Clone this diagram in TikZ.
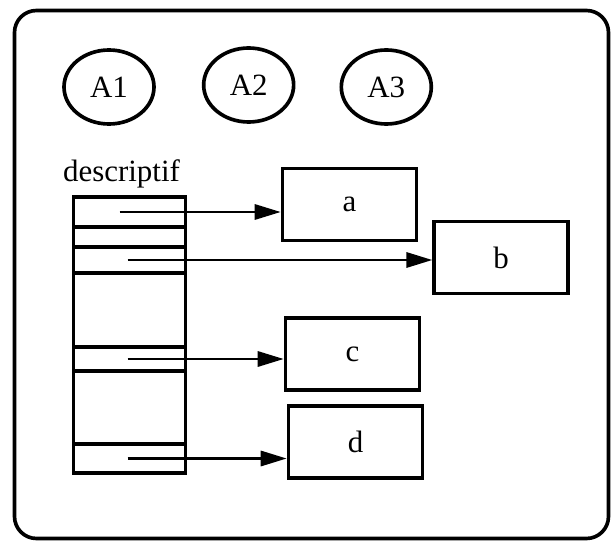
\documentclass[tikz,border=0pt]{standalone}
\usepackage{fontspec}
\setmainfont{Liberation Serif}
\usetikzlibrary{shapes.geometric, arrows.meta, positioning}
\tikzstyle{cadre} = [rectangle, rounded corners=0.55cm, line width=2.6pt, draw=black]
\tikzstyle{attribut} = [ellipse, minimum width=2.25cm, minimum height=1.85cm, line width=2.6pt, draw=black]
\tikzstyle{case} = [rectangle, minimum width=2.8cm, inner sep=0pt, outer sep=0pt, line width=2.4pt, draw=black]
\tikzstyle{valeur} = [rectangle, minimum width=3.35cm, minimum height=1.8cm, text centered, line width=2.6pt, draw=black]
\tikzstyle{fleche} = [line width=1.9pt, -{Triangle[length=0.65cm, width=0.38cm]}]

\begin{document}
\begin{tikzpicture}[font=\fontsize{22}{26}\selectfont]

\useasboundingbox (0,0) rectangle (15.275,-13.575);

\node (tout) [cadre, minimum width=14.85cm, minimum height=13.2cm] at (7.7875,-6.8625) {};

\node (A1) [attribut] at (2.725,-2.175) {A1};
\node (A2) [attribut, right=1.15cm of A1, yshift=0.05cm] {A2};
\node (A3) [attribut, right=1.1cm of A2, yshift=-0.05cm] {A3};

\node (caseA) [case, minimum height=0.75cm] at (3.2375,-5.3) {};
\node (vide1) [case, minimum height=0.5cm, below=0pt of caseA] {};
\node (caseB) [case, minimum height=0.65cm, below=0pt of vide1] {};
\node (vide2) [case, minimum height=1.85cm, below=0pt of caseB] {};
\node (caseC) [case, minimum height=0.6cm, below=0pt of vide2] {};
\node (vide3) [case, minimum height=1.825cm, below=0pt of caseC] {};
\node (caseD) [case, minimum height=0.725cm, below=0pt of vide3] {};

\node (titre) [above=0.1cm of caseA, xshift=-0.2cm] {descriptif};

\node (a) [valeur] at (8.7375,-5.1125) {a};
\node (b) [valeur, right=0.35cm of a, yshift=-1.325cm] {b};
\node (c) [valeur, below=1.85cm of a, xshift=0.075cm] {c};
\node (d) [valeur, below=0.3cm of c, xshift=0.075cm] {d};

\draw [fleche] ([xshift=-0.25cm]caseA.center) -- (caseA.center -| a.west);
\draw [fleche] ([xshift=-0.05cm]caseB.center) -- (caseB.center -| b.west);
\draw [fleche] ([xshift=-0.05cm]caseC.center) -- (caseC.center -| c.west);
\draw [fleche] ([xshift=-0.05cm]caseD.center) -- (caseD.center -| d.west);

\end{tikzpicture}
\end{document}
